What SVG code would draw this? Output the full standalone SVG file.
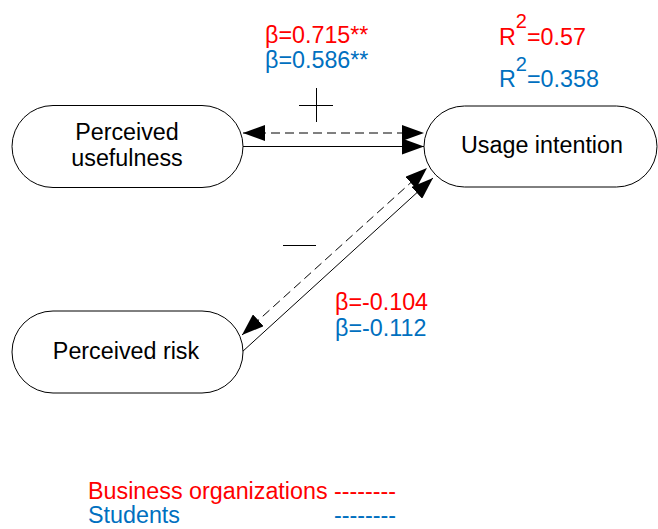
<svg xmlns="http://www.w3.org/2000/svg" width="658" height="529" viewBox="0 0 658 529">
<style>
text{font-family:"Liberation Sans",Arial,sans-serif;font-size:23.3px;}
.node rect{fill:#fff;stroke:#000;stroke-width:1;}
.lbl{fill:#000;text-anchor:middle;}
.red{fill:#ff0000;}
.blue{fill:#0070c0;}
.conn{fill:none;stroke:#000;stroke-width:1;}
.dash{stroke-dasharray:9 5;}
.sign{stroke:#000;stroke-width:1;fill:none;}
</style>
<defs>
<marker id="arr" markerUnits="userSpaceOnUse" markerWidth="22" markerHeight="16" refX="22" refY="8" orient="auto-start-reverse" viewBox="0 0 22 16">
<path d="M0,0 L22,8 L0,16 z" fill="#000" stroke="none"/>
</marker>
</defs>
<rect width="658" height="529" fill="#fff"/>
<g id="connectors">
<line class="conn dash" x1="243" y1="133" x2="424" y2="133" marker-start="url(#arr)" marker-end="url(#arr)"/>
<line class="conn" x1="243" y1="146.5" x2="424" y2="146.5" marker-end="url(#arr)"/>
<line class="conn dash" x1="242" y1="335" x2="427" y2="168" marker-start="url(#arr)" marker-end="url(#arr)"/>
<line class="conn" x1="242" y1="352" x2="433" y2="178" marker-end="url(#arr)"/>
</g>
<g id="node-usefulness" class="node">
<rect x="12" y="105.5" width="231" height="82" rx="41" ry="41"/>
<text class="lbl" x="127" y="140">Perceived</text>
<text class="lbl" x="127" y="166">usefulness</text>
</g>
<g id="node-intention" class="node">
<rect x="424" y="106" width="233" height="81" rx="40.5" ry="40.5"/>
<text class="lbl" x="542" y="153">Usage intention</text>
</g>
<g id="node-risk" class="node">
<rect x="12" y="311" width="231" height="82" rx="41" ry="41"/>
<text class="lbl" x="126" y="359">Perceived risk</text>
</g>
<g id="signs">
<path class="sign" d="M299,105.5 H333 M316.5,88 V122"/>
<path class="sign" d="M283,245.5 H316"/>
</g>
<g id="labels">
<text class="red" x="265" y="43">β=0.715**</text>
<text class="blue" x="265" y="68">β=0.586**</text>
<text class="red" x="499" y="45">R<tspan dy="-17" font-size="20">2</tspan><tspan dy="17">=0.57</tspan></text>
<text class="blue" x="499" y="87">R<tspan dy="-16" font-size="20">2</tspan><tspan dy="16">=0.358</tspan></text>
<text class="red" x="335" y="310">β=-0.104</text>
<text class="blue" x="335" y="336">β=-0.112</text>
</g>
<g id="legend">
<text class="red" x="88" y="499">Business organizations --------</text>
<text class="blue" x="88" y="523">Students<tspan x="334">--------</tspan></text>
</g>
</svg>
